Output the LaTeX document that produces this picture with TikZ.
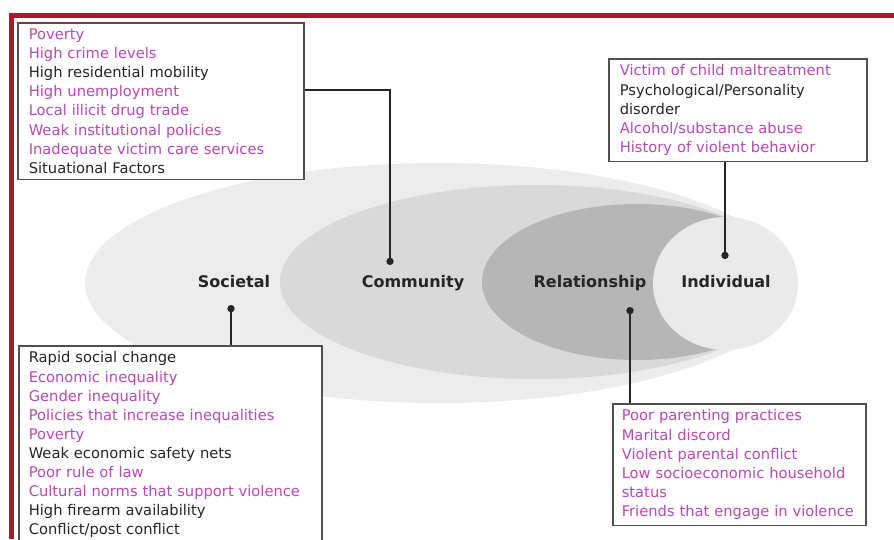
\documentclass[tikz,border=0pt]{standalone}
\usepackage{fontspec}
\setmainfont{DejaVu Sans}
\usetikzlibrary{arrows,positioning}
\definecolor{framered}{RGB}{165,27,48}
\definecolor{riskpink}{RGB}{182,74,182}
\definecolor{riskdark}{RGB}{38,38,38}
\definecolor{boxgray}{RGB}{80,80,80}
\definecolor{ringA}{RGB}{236,236,236}
\definecolor{ringB}{RGB}{217,217,217}
\definecolor{ringC}{RGB}{182,182,182}
\definecolor{ringD}{RGB}{234,234,234}
\newcommand{\pk}[1]{\textcolor{riskpink}{#1}}
\newcommand{\bk}[1]{\textcolor{riskdark}{#1}}

\tikzset{
  ringlabel/.style={font=\bfseries\fontsize{16}{19}\selectfont, text=riskdark,
    text height=12pt, text depth=4pt, inner sep=0pt},
  factbox/.style={draw=boxgray, line width=1.6pt, fill=white, anchor=north west,
    align=left, inner ysep=6pt, font=\fontsize{14.7}{19.1}\selectfont},
  conn/.style={draw=riskdark, line width=1.3pt, -*}
}

\begin{document}
\begin{tikzpicture}[x=1pt,y=-1pt]
\useasboundingbox (0,0) rectangle (894,539);
\clip (0,0) rectangle (894,539);
% nested levels, all closing in behind the individual
\fill[ringA] (438.5,283) ellipse [x radius=353.5, y radius=120];
\fill[ringB] (536,282) ellipse [x radius=256, y radius=97];
\fill[ringC] (637,282) ellipse [x radius=155, y radius=78];
\fill[ringD] (725.5,283.5) ellipse [x radius=72.5, y radius=66.5];
\node[ringlabel] (soc) at (234,283) {Societal};
\node[ringlabel] (comm) at (413,283) {Community};
\node[ringlabel] (rel) at (590,283) {Relationship};
\node[ringlabel] (ind) at (726,283) {Individual};
% risk factor lists
\node[factbox, text width=264pt, inner xsep=11pt] (commbox) at (17,22) {\pk{Poverty}\\ \pk{High crime levels}\\ \bk{High residential mobility}\\ \pk{High unemployment}\\ \pk{Local illicit drug trade}\\ \pk{Weak institutional policies}\\ \pk{Inadequate victim care services}\\ \bk{Situational Factors}};
\node[factbox, text width=236pt, inner xsep=11pt] (indbox) at (608,58) {\pk{Victim of child maltreatment}\\ \bk{Psychological/Personality}\\ \bk{disorder}\\ \pk{Alcohol/substance abuse}\\ \pk{History of violent behavior}};
\node[factbox, text width=283pt, inner xsep=10pt] (socbox) at (18,345) {\bk{Rapid social change}\\ \pk{Economic inequality}\\ \pk{Gender inequality}\\ \pk{Policies that increase inequalities}\\ \pk{Poverty}\\ \bk{Weak economic safety nets}\\ \pk{Poor rule of law}\\ \pk{Cultural norms that support violence}\\ \bk{High firearm availability}\\ \bk{Conflict/post conflict}};
\node[factbox, text width=235pt, inner xsep=9pt] (relbox) at (612,403) {\pk{Poor parenting practices}\\ \pk{Marital discord}\\ \pk{Violent parental conflict}\\ \pk{Low socioeconomic household}\\ \pk{status}\\ \pk{Friends that engage in violence}};
% leaders
\coordinate (soctip) at (231,305);
\coordinate (commbend) at (390,90);
\coordinate (commtip) at (390,265);
\coordinate (reltip) at (630,307);
\coordinate (indtip) at (725,259);
\draw[conn] (socbox.north -| soctip) -- (soctip);
\draw[conn] (commbox.east |- commbend) -- (commbend) -- (commtip);
\draw[conn] (relbox.north -| reltip) -- (reltip);
\draw[conn] (indbox.south -| indtip) -- (indtip);
% frame
\draw[framered, line width=5pt] (11,539) -- (11,15) -- (894,15);
\end{tikzpicture}
\end{document}
